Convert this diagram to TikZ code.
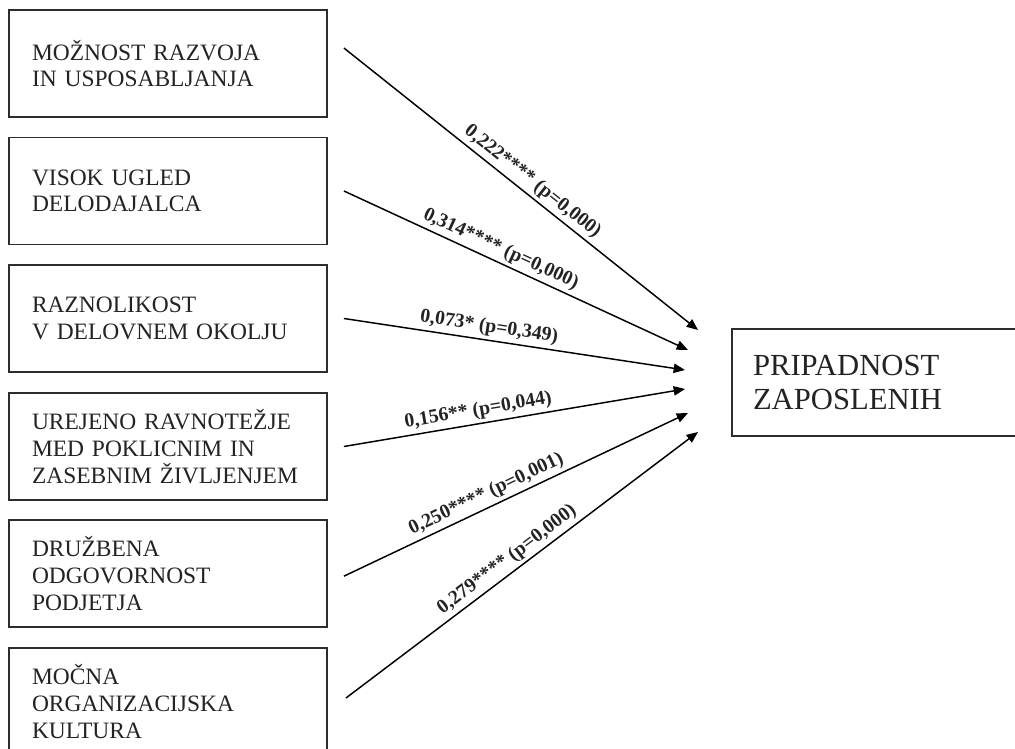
\documentclass[tikz,border=0pt]{standalone}
\usepackage{fontspec}
\setmainfont{Liberation Serif}
\usetikzlibrary{arrows.meta}
\definecolor{Frame}{RGB}{45,45,45}
\definecolor{Ink}{RGB}{35,35,35}

\begin{document}
\begin{tikzpicture}[
    x=0.75pt,
    y=-0.75pt,
    every node/.style={align=left},
    factor/.style={
      draw=Frame,
      line width=1.4pt,
      text=Ink,
      text width=204pt,
      minimum height=80.25pt,
      inner xsep=17.25pt,
      inner ysep=0pt,
      font=\fontsize{17.6}{20}\selectfont
    },
    outcome/.style={
      draw=Frame,
      line width=1.4pt,
      text=Ink,
      text width=195pt,
      minimum height=80.25pt,
      inner xsep=15.75pt,
      inner ysep=0pt,
      font=\fontsize{23}{26}\selectfont
    },
    effect/.style={-{Triangle[length=8.5pt,width=7pt]}, line width=1.1pt},
    coef/.style={sloped, above, inner sep=2.5pt, text=Ink, font=\fontsize{14.8}{16}\selectfont\bfseries}
  ]

    \path[use as bounding box, clip] (0,0) rectangle (1015,749);

    % Predictors
    \node[factor] (razvoj) at (168,63.5) {MOŽNOST RAZVOJA\\IN USPOSABLJANJA};
    \node[factor] (ugled) at (168,191) {VISOK UGLED\\DELODAJALCA};
    \node[factor] (raznolikost) at (168,318.5) {RAZNOLIKOST\\V DELOVNEM OKOLJU};
    \node[factor] (ravnotezje) at (168,446.5) {UREJENO RAVNOTEŽJE\\MED POKLICNIM IN\\ZASEBNIM ŽIVLJENJEM};
    \node[factor] (odgovornost) at (168,573.5) {DRUŽBENA\\ODGOVORNOST\\PODJETJA};
    \node[factor] (kultura) at (168,701.5) {MOČNA\\ORGANIZACIJSKA\\KULTURA};

    % Outcome
    \node[outcome] (pripadnost) at (883,382.5) {PRIPADNOST\\ZAPOSLENIH};

    % Arrow tips in front of the outcome
    \coordinate (t1) at (698,330);
    \coordinate (t2) at (688,350);
    \coordinate (t3) at (685,370);
    \coordinate (t4) at (685,389);
    \coordinate (t5) at (688,413);
    \coordinate (t6) at (698,432);

    % Paths with coefficients
    \draw[effect] ([xshift=12pt,yshift=11.6pt]razvoj.east) -- (t1) node[coef, pos=0.51] {0,222**** (p=0,000)};
    \draw[effect] ([xshift=12pt]ugled.east) -- (t2) node[coef, pos=0.44] {0,314**** (p=0,000)};
    \draw[effect] ([xshift=12pt]raznolikost.east) -- (t3) node[coef, pos=0.42] {0,073* (p=0,349)};
    \draw[effect] ([xshift=12pt]ravnotezje.east) -- (t4) node[coef, pos=0.40] {0,156** (p=0,044)};
    \draw[effect] ([xshift=12pt,yshift=-2pt]odgovornost.east) -- (t5) node[coef, pos=0.43] {0,250**** (p=0,001)};
    \draw[effect] ([xshift=13.5pt,yshift=2.6pt]kultura.east) -- (t6) node[coef, pos=0.48] {0,279**** (p=0,000)};
  \end{tikzpicture}
\end{document}
